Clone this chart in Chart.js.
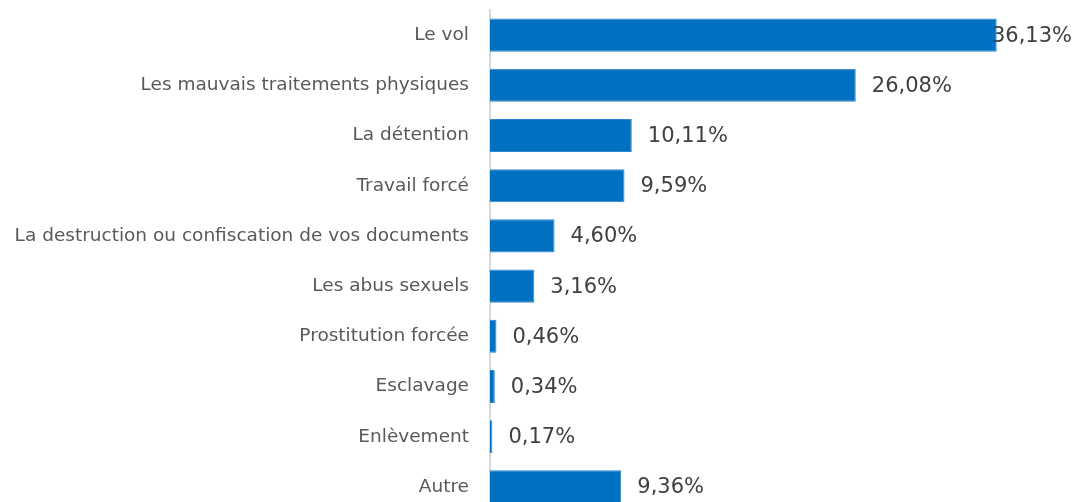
<!DOCTYPE html>
<html>
<head>
<meta charset="utf-8">
<script src="https://cdn.jsdelivr.net/npm/chart.js@4/dist/chart.umd.min.js"></script>
<style>
  html, body { margin: 0; padding: 0; background: #fff; overflow: hidden; }
  #wrap { width: 1077px; height: 512px; }
</style>
</head>
<body>
<div id="wrap"><canvas id="chart" width="1077" height="512"></canvas></div>
<script>
const CATEGORIES = [
  'Le vol',
  'Les mauvais traitements physiques',
  'La détention',
  'Travail forcé',
  'La destruction ou confiscation de vos documents',
  'Les abus sexuels',
  'Prostitution forcée',
  'Esclavage',
  'Enlèvement',
  'Autre'
];
const VALUES = [36.13, 26.08, 10.11, 9.59, 4.60, 3.16, 0.46, 0.34, 0.17, 9.36];
const BAR_COLOR = '#0070C0';
const FONT = '"DejaVu Sans", sans-serif';

const fmtPct = v => v.toFixed(2).replace('.', ',') + '%';

// value labels after each bar, pushed back inside the canvas when too wide
const valueLabels = {
  id: 'valueLabels',
  afterDatasetsDraw(chart){
    const { ctx } = chart;
    const meta = chart.getDatasetMeta(0);
    ctx.save();
    ctx.font = '21px ' + FONT;
    ctx.fillStyle = '#404040';
    ctx.textBaseline = 'middle';
    meta.data.forEach((bar, i) => {
      const txt = fmtPct(VALUES[i]);
      const w = ctx.measureText(txt).width;
      let x = bar.x + 16;
      if (x + w > chart.width - 5) x = chart.width - 5 - w;
      ctx.fillText(txt, x, bar.y + 1);
    });
    ctx.restore();
  }
};

new Chart(document.getElementById('chart'), {
  type: 'bar',
  data: {
    labels: CATEGORIES,
    datasets: [{
      data: VALUES,
      backgroundColor: BAR_COLOR,
      borderColor: '#2E86CF',
      borderWidth: 1,
      barPercentage: 0.66,
      categoryPercentage: 1.0
    }]
  },
  options: {
    indexAxis: 'y',
    responsive: false,
    animation: false,
    layout: { padding: { top: 10, right: 26, bottom: 0, left: 0 } },
    plugins: { legend: { display: false }, tooltip: { enabled: false } },
    scales: {
      x: { display: false, min: 0, max: 40 },
      y: {
        afterFit: s => { s.width = 490; s.paddingTop = 0; s.paddingBottom = 0; },
        grid: { display: false, drawTicks: false },
        border: { display: true, color: '#d9d9d9', width: 2 },
        ticks: { color: '#595959', padding: 21, font: { family: FONT, size: 18.5 } }
      }
    }
  },
  plugins: [valueLabels]
});
</script>
</body>
</html>
